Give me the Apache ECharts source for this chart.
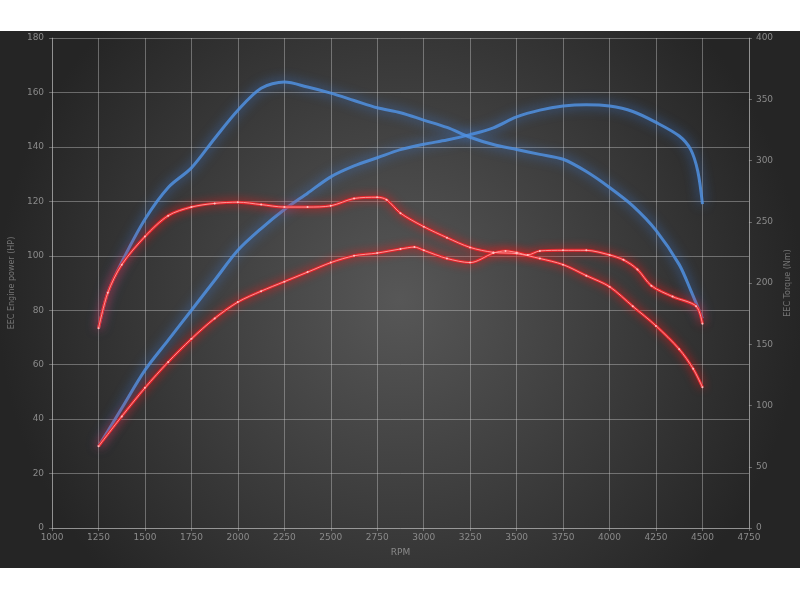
<!DOCTYPE html>
<html>
<head>
<meta charset="utf-8">
<script src="https://cdn.jsdelivr.net/npm/echarts@6/dist/echarts.min.js"></script>
<style>
html,body{margin:0;padding:0;background:#fff;}
#c{width:800px;height:600px;}
</style>
</head>
<body>
<div id="c"></div>
<script>
// ---- data ----
const tunedPowerRpm = [1250,1375,1500,1625,1750,1875,2000,2125,2250,2375,2500,2625,2750,2875,3000,3125,3250,3375,3500,3625,3750,3875,4000,4125,4250,4375,4437,4475,4500];
const tunedPowerHp  = [30,44,58,69,80,91,102,110,117,123,129,133,136,139,141,142.5,144.5,147,151,153.5,155,155.5,155,153,149,144,139,131,119];

const tunedTorqueRpm = [1250,1300,1375,1500,1625,1750,1875,2000,2125,2250,2375,2500,2625,2750,2875,3000,3125,3250,3375,3500,3625,3750,3875,4000,4125,4250,4375,4437,4500];
const tunedTorqueNm  = [163,192,217,252,278,294,318,341,359,364,360,355,349,343,339,333,327,319,313,309,305,301,291,278,263,243,215,194,171];

const stockPowerRpm = [1250,1375,1500,1625,1750,1875,2000,2125,2250,2375,2500,2625,2750,2875,2950,3000,3125,3250,3375,3440,3500,3560,3625,3750,3875,4000,4075,4150,4225,4339,4466,4500];
const stockPowerHp  = [30,41,51.5,61,69.5,77,83,87,90.5,94,97.5,100,101,102.5,103.2,102,99,97.5,101,101.8,101.2,100.3,101.8,102,102,100.3,98.5,95,89,85,81.5,75];

const stockTorqueRpm = [1250,1300,1375,1500,1625,1750,1875,2000,2125,2250,2375,2500,2625,2750,2800,2875,3000,3125,3250,3375,3500,3625,3750,3875,4000,4125,4250,4375,4450,4500];
const stockTorqueNm  = [163,192,215,238,255,262,265,266,264,262,262,263,269,270,268,257,246,237,229,225,224,220,215,206,197,181,165,146,130,115];

const xTicks = {min:1000, max:4750, step:250};
const powerTicks = {min:0, max:180, step:20};
const torqueTicks = {min:0, max:400, step:50};

function pairs(xs, ys){ return xs.map((x,i)=>[x, ys[i]]); }

const chart = echarts.init(document.getElementById('c'), null, {renderer:'canvas'});

const gridCol = 'rgba(200,200,200,0.42)';
const labelCol = '#8a8a8a';
const font = 'DejaVu Sans';

function glowLine(name, data, axis, color, glow, width, blur, z){
  return {
    name, type:'line', yAxisIndex:axis, data, smooth:0.3, showSymbol:false,
    lineStyle:{color, width, shadowColor:glow, shadowBlur:blur},
    z:z
  };
}
function coreLine(name, data, axis, color){
  return {
    name:name+' core', type:'line', yAxisIndex:axis, data, smooth:0.3,
    symbol:'circle', symbolSize:2, showSymbol:true,
    itemStyle:{color:'#ffc0c0'},
    lineStyle:{color, width:1},
    z:4
  };
}

const blue = 'rgba(80,145,225,0.85)', blueGlow = 'rgba(60,130,235,1)';
const red = '#e3262c', redGlow = 'rgba(255,20,20,1)';

chart.setOption({
  backgroundColor:'#ffffff',
  animation:false,
  textStyle:{fontFamily:font},
  graphic:[{
    type:'rect', z:-10, silent:true,
    shape:{x:0, y:31, width:800, height:537},
    style:{fill:{type:'radial', x:0.5, y:0.5, r:0.75,
      colorStops:[{offset:0,color:'#575757'},{offset:1,color:'#252525'}]}}
  }],
  grid:{left:50, right:50, top:38, bottom:72, containLabel:false},
  xAxis:{
    type:'value', min:xTicks.min, max:xTicks.max, interval:xTicks.step,
    name:'RPM', nameLocation:'middle', nameGap:20,
    nameTextStyle:{color:labelCol, fontSize:9, fontFamily:font},
    axisLine:{show:true, lineStyle:{color:gridCol}},
    axisTick:{show:true, length:3, lineStyle:{color:gridCol}},
    axisLabel:{color:labelCol, fontSize:9, margin:5, fontFamily:font, formatter:(v)=>String(v)},
    splitLine:{show:true, lineStyle:{color:gridCol, width:1}}
  },
  yAxis:[{
    type:'value', min:powerTicks.min, max:powerTicks.max, interval:powerTicks.step,
    name:'EEC Engine power (HP)', nameLocation:'middle', nameGap:30,
    nameTextStyle:{color:'#767676', fontSize:8, fontFamily:font},
    axisLine:{show:true, lineStyle:{color:gridCol}},
    axisTick:{show:true, length:3, lineStyle:{color:gridCol}},
    axisLabel:{color:labelCol, fontSize:9, margin:8, fontFamily:font},
    splitLine:{show:true, lineStyle:{color:gridCol, width:1}}
  },{
    type:'value', min:torqueTicks.min, max:torqueTicks.max, interval:torqueTicks.step,
    name:'EEC Torque (Nm)', nameLocation:'middle', nameGap:31,
    nameTextStyle:{color:'#767676', fontSize:8, fontFamily:font},
    axisLine:{show:true, lineStyle:{color:gridCol}},
    axisTick:{show:true, length:3, lineStyle:{color:gridCol}},
    axisLabel:{color:labelCol, fontSize:9, margin:7, fontFamily:font},
    splitLine:{show:false}
  }],
  series:[
    glowLine('Tuned power', pairs(tunedPowerRpm, tunedPowerHp), 0, blue, blueGlow, 3, 12, 2),
    glowLine('Tuned torque', pairs(tunedTorqueRpm, tunedTorqueNm), 1, blue, blueGlow, 3, 12, 2),
    glowLine('Stock power', pairs(stockPowerRpm, stockPowerHp), 0, red, redGlow, 3, 10, 3),
    glowLine('Stock torque', pairs(stockTorqueRpm, stockTorqueNm), 1, red, redGlow, 3, 10, 3),
    coreLine('Stock power', pairs(stockPowerRpm, stockPowerHp), 0, 'rgba(255,160,160,0.9)'),
    coreLine('Stock torque', pairs(stockTorqueRpm, stockTorqueNm), 1, 'rgba(255,160,160,0.9)')
  ]
});
</script>
</body>
</html>
